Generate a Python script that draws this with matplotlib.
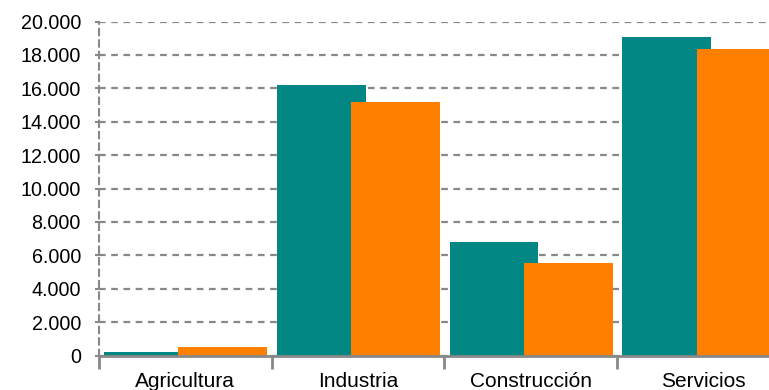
import numpy as np
import matplotlib.pyplot as plt
from matplotlib.ticker import FuncFormatter, FixedLocator

plt.rcParams['font.family'] = ['Liberation Sans', 'DejaVu Sans']

# data
categorias = ["Agricultura", "Industria", "Construcción", "Servicios"]
serie1 = [200, 16200, 6800, 19100]
serie2 = [520, 15200, 5550, 18350]

color1 = "#028785"
color2 = "#ff8000"
gris = "#888888"

fig = plt.figure(figsize=(7.69, 3.90), dpi=100)
ax = fig.add_axes([99/769, 34.5/390, 691/769, 334/390])

x = np.arange(len(categorias))
barw = 0.515
ax.bar(x + 0.029, serie1, width=barw, align='edge', color=color1, zorder=2)
ax.bar(x + 0.46, serie2, width=barw, align='edge', color=color2, zorder=3)

ax.set_xlim(0, 4)
ax.set_ylim(0, 20000)
ax.set_yticks(np.arange(0, 20001, 2000))
ax.yaxis.set_major_formatter(FuncFormatter(lambda v, p: f"{v:,.0f}".replace(",", ".")))

# ticks at category boundaries, labels at centres
ax.xaxis.set_major_locator(FixedLocator(np.arange(0, 5)))
ax.xaxis.set_major_formatter(FuncFormatter(lambda v, p: ""))
ax.xaxis.set_minor_locator(FixedLocator(x + 0.5))
ax.set_xticklabels(categorias, minor=True)
ax.tick_params(axis='x', which='major', length=9, width=2, color=gris, direction='out')
ax.tick_params(axis='x', which='minor', length=0, pad=12, labelsize=15)
ax.tick_params(axis='y', length=3, width=1.5, color=gris, pad=10, labelsize=14.2)

ax.grid(axis='y', color=gris, linestyle=(0, (3, 2.5)), linewidth=1.6, zorder=1)
ax.set_axisbelow(True)

for s in ['top', 'right']:
    ax.spines[s].set_visible(False)
ax.spines['left'].set_color(gris)
ax.spines['left'].set_linestyle((0, (3, 2.5)))
ax.spines['left'].set_linewidth(1.5)
ax.spines['bottom'].set_color(gris)
ax.spines['bottom'].set_linewidth(2)
ax.spines['bottom'].set_zorder(4)

fig.savefig("out.png", dpi=100)
